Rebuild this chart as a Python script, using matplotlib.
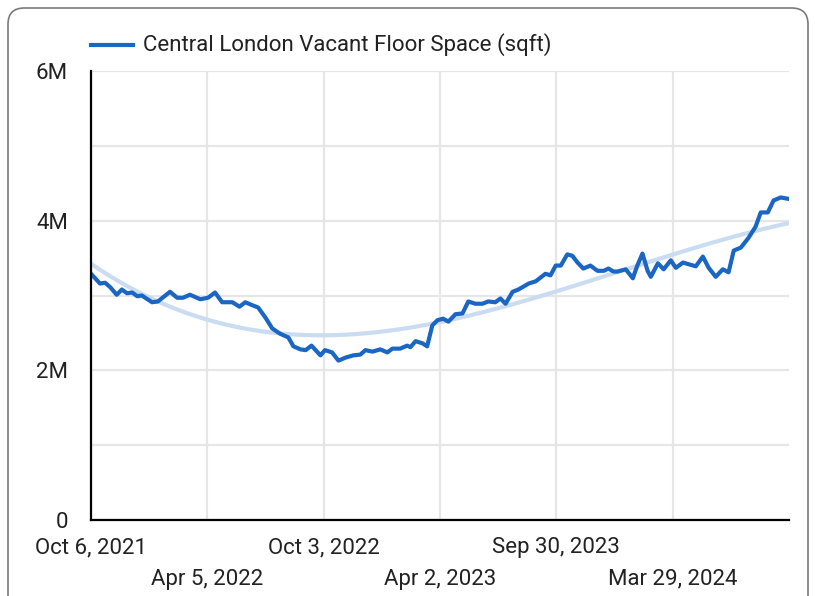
import numpy as np
import pandas as pd
import matplotlib
matplotlib.use("Agg")
import matplotlib.pyplot as plt
import matplotlib.dates as mdates
from matplotlib.patches import FancyBboxPatch

plt.rcParams['font.family'] = ['Roboto', 'DejaVu Sans']

start_date = "2021-10-06"
day_offsets = [0, 14, 22, 30, 40, 48, 56, 64, 72, 79, 95, 104, 123, 134, 143, 154, 170, 182,
               193, 204, 220, 231, 240, 251, 260, 271, 282, 294, 307, 315, 326, 334, 343, 357,
               364, 375, 385, 396, 408, 419, 427, 438, 450, 461, 469, 481, 492, 497, 505, 516,
               523, 531, 539, 548, 556, 567, 578, 587, 598, 609, 618, 629, 637, 645, 656, 665,
               681, 692, 707, 715, 723, 731, 741, 749, 757, 766, 777, 788, 798, 805, 813, 819,
               832, 843, 850, 858, 866, 871, 882, 891, 902, 910, 921, 933, 941, 952, 961, 972,
               983, 992, 1000, 1011, 1023, 1034, 1042, 1053, 1062, 1073, 1086]
vacant_m = [3.29, 3.16, 3.17, 3.11, 3.01, 3.08, 3.03, 3.04, 2.99, 3.00, 2.91, 2.92, 3.05, 2.97,
            2.97, 3.01, 2.95, 2.97, 3.04, 2.91, 2.91, 2.85, 2.91, 2.87, 2.84, 2.71, 2.56, 2.49,
            2.44, 2.32, 2.28, 2.27, 2.33, 2.20, 2.27, 2.24, 2.13, 2.17, 2.20, 2.21, 2.27, 2.25,
            2.28, 2.24, 2.29, 2.29, 2.33, 2.31, 2.39, 2.36, 2.32, 2.60, 2.67, 2.69, 2.65, 2.75,
            2.76, 2.92, 2.89, 2.89, 2.92, 2.91, 2.96, 2.89, 3.05, 3.08, 3.16, 3.19, 3.29, 3.27,
            3.40, 3.40, 3.55, 3.53, 3.44, 3.36, 3.40, 3.33, 3.33, 3.36, 3.32, 3.32, 3.35, 3.23,
            3.40, 3.56, 3.33, 3.25, 3.43, 3.35, 3.47, 3.37, 3.44, 3.41, 3.39, 3.52, 3.37, 3.25,
            3.35, 3.31, 3.60, 3.64, 3.77, 3.92, 4.11, 4.11, 4.27, 4.31, 4.29]
x_tick_labels = ["Oct 6, 2021", "Apr 5, 2022", "Oct 3, 2022", "Apr 2, 2023",
                 "Sep 30, 2023", "Mar 29, 2024"]
y_ticks = [0, 1, 2, 3, 4, 5, 6]
y_tick_labels = ["0", "", "2M", "", "4M", "", "6M"]
legend_label = "Central London Vacant Floor Space (sqft)"

start = pd.Timestamp(start_date)
dates = start + pd.to_timedelta(day_offsets, unit="D")
values = np.array(vacant_m) * 1e6
x_end = start + pd.Timedelta(days=1086)

# cubic polynomial trendline fitted to the data
t = np.array(day_offsets, dtype=float)
coef = np.polyfit(t, values, 3)
t_fit = np.linspace(0, 1086, 300)
trend = np.polyval(coef, t_fit)
trend_dates = start + pd.to_timedelta(t_fit, unit="D")

W, H = 815, 596
fig = plt.figure(figsize=(W / 100, H / 100), dpi=100)
ax = fig.add_axes([91 / W, 76 / H, 698 / W, 449 / H])

line_color = "#1a66c2"
FS = 16
ax.plot(trend_dates, trend, color="#cadcf2", lw=3.0, solid_capstyle="butt", zorder=2)
ax.plot(dates, values, color=line_color, lw=3.0, solid_joinstyle="round", zorder=3)

ax.set_xlim(mdates.date2num(start), mdates.date2num(x_end))
ax.set_ylim(0, 6e6)

tick_dates = [pd.Timestamp(s) for s in ["2021-10-06", "2022-04-05", "2022-10-03",
                                          "2023-04-02", "2023-09-30", "2024-03-29"]]
ax.set_xticks([mdates.date2num(d) for d in tick_dates])
ax.set_xticklabels(x_tick_labels, fontsize=FS, color="#222222")
ax.set_yticks([v * 1e6 for v in y_ticks])
ax.set_yticklabels(y_tick_labels, fontsize=FS, color="#222222")

ax.tick_params(axis="both", length=0)
ax.tick_params(axis="y", pad=16.5)
for i, tk in enumerate(ax.xaxis.get_major_ticks()):
    tk.set_pad(12.5 if i % 2 == 0 else 35)

ax.grid(True, color="#e6e6e6", lw=1.6, zorder=0)
ax.set_axisbelow(True)
for s in ["top", "right"]:
    ax.spines[s].set_visible(False)
for s in ["left", "bottom"]:
    ax.spines[s].set_color("black")
    ax.spines[s].set_linewidth(1.6)
    ax.spines[s].set_zorder(4)

# legend
fig.lines.append(plt.Line2D([91 / W, 133 / W], [1 - 45 / H, 1 - 45 / H],
                            transform=fig.transFigure, color=line_color, lw=3))
fig.text(143 / W, 1 - 45 / H, legend_label, fontsize=FS, color="#222222",
         va="center", ha="left")

# outer frame (rounded, clipped at bottom)
frame = FancyBboxPatch((8 / W, -0.05), 800 / W, (H - 8) / H + 0.05,
                       boxstyle="round,pad=0,rounding_size=0.02",
                       transform=fig.transFigure, fill=False,
                       edgecolor="#7a7a7a", lw=1.2, mutation_aspect=W / H)
fig.patches.append(frame)

fig.savefig("out.png", dpi=100)
